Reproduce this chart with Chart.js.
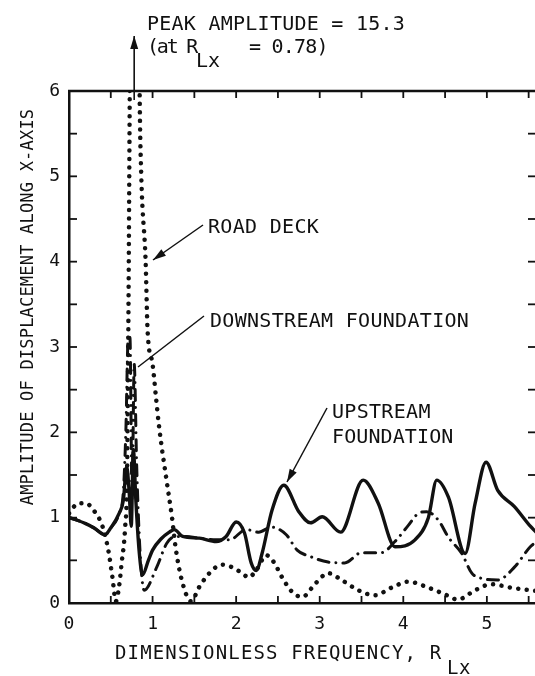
<!DOCTYPE html>
<html><head><meta charset="utf-8">
<script src="https://cdn.jsdelivr.net/npm/chart.js@4.4.1/dist/chart.umd.min.js"></script>
<style>
html,body{margin:0;padding:0;background:#fff;overflow:hidden;width:535px;height:676px}
#wrap{position:relative;width:535px;height:676px;overflow:hidden}
canvas{display:block}
</style>
</head><body>
<div id="wrap"><canvas id="c" width="535" height="676"></canvas></div>
<script>
// ---------- data ----------
const xTickLabels = ['0', '1', '2', '3', '4', '5'];
const yTickLabels = ['0', '1', '2', '3', '4', '5', '6'];

const roadDeckX = [0, 0.05, 0.12, 0.2, 0.3, 0.4, 0.47, 0.52, 0.56, 0.6, 0.63, 0.67, 0.695, 0.71, 0.727, 0.78, 0.845, 0.865, 0.917, 0.94, 1.0, 1.04, 1.08, 1.17, 1.23, 1.28, 1.36, 1.46, 1.56, 1.68, 1.83, 1.95, 2.07, 2.15, 2.25, 2.36, 2.45, 2.55, 2.67, 2.79, 2.95, 3.1, 3.26, 3.46, 3.66, 3.86, 4.06, 4.3, 4.5, 4.65, 4.86, 5.05, 5.29, 5.52, 5.6];
const roadDeckY = [1.05, 1.12, 1.17, 1.17, 1.08, 0.9, 0.62, 0.3, 0.02, 0.2, 0.47, 0.86, 1.5, 3.2, 6.0, 15.3, 6.0, 5.0, 4.0, 3.2, 2.8, 2.42, 2.05, 1.42, 1.02, 0.62, 0.23, 0.02, 0.19, 0.35, 0.45, 0.42, 0.35, 0.3, 0.4, 0.56, 0.48, 0.3, 0.13, 0.07, 0.23, 0.35, 0.27, 0.15, 0.09, 0.18, 0.25, 0.18, 0.1, 0.04, 0.15, 0.22, 0.18, 0.15, 0.14];

const downstreamX = [0, 0.1, 0.2, 0.3, 0.43, 0.5, 0.6, 0.65, 0.68, 0.71, 0.73, 0.755, 0.78, 0.81, 0.85, 0.9, 1.05, 1.17, 1.28, 1.4, 1.56, 1.76, 1.92, 2.12, 2.27, 2.42, 2.6, 2.73, 2.9, 3.1, 3.3, 3.5, 3.74, 3.9, 4.06, 4.18, 4.28, 4.42, 4.54, 4.7, 4.82, 4.93, 5.13, 5.33, 5.52, 5.6];
const downstreamY = [1.0, 0.97, 0.93, 0.88, 0.8, 0.88, 1.05, 1.3, 2.0, 3.15, 3.1, 1.2, 2.8, 1.6, 0.6, 0.15, 0.42, 0.7, 0.78, 0.78, 0.76, 0.74, 0.74, 0.86, 0.83, 0.89, 0.8, 0.62, 0.54, 0.48, 0.47, 0.59, 0.59, 0.72, 0.91, 1.05, 1.07, 0.97, 0.77, 0.58, 0.35, 0.29, 0.27, 0.42, 0.66, 0.72];

const upstreamX = [0, 0.1, 0.2, 0.3, 0.43, 0.5, 0.6, 0.65, 0.69, 0.72, 0.745, 0.77, 0.8, 0.84, 0.88, 0.95, 1.0, 1.1, 1.2, 1.26, 1.36, 1.56, 1.76, 1.88, 2.0, 2.1, 2.18, 2.24, 2.31, 2.43, 2.57, 2.75, 2.89, 3.03, 3.25, 3.52, 3.7, 3.9, 4.14, 4.3, 4.4, 4.54, 4.74, 4.86, 4.99, 5.13, 5.33, 5.52, 5.6];
const upstreamY = [1.0, 0.97, 0.93, 0.88, 0.8, 0.88, 1.05, 1.2, 1.6, 1.3, 0.9, 1.8, 1.2, 0.6, 0.33, 0.5, 0.62, 0.75, 0.83, 0.86, 0.78, 0.76, 0.72, 0.78, 0.95, 0.82, 0.47, 0.38, 0.58, 1.09, 1.38, 1.07, 0.94, 1.01, 0.83, 1.44, 1.17, 0.66, 0.74, 1.0, 1.44, 1.24, 0.58, 1.17, 1.65, 1.32, 1.13, 0.9, 0.82];

const peakRLx = 0.78;
// ------------------------------------------------------------

const INK = '#111';
const FONT = '"DejaVu Sans Mono", "Liberation Mono", monospace';
const pts = (xs, ys) => xs.map((v, i) => ({ x: v, y: ys[i] }));
const isInt = v => Math.abs(v - Math.round(v)) < 1e-6;

function txt(ctx, s, x, y, size, spacing) {
  ctx.font = size + 'px ' + FONT;
  ctx.letterSpacing = (spacing || 0) + 'px';
  ctx.textAlign = 'left';
  ctx.textBaseline = 'alphabetic';
  ctx.fillText(s, x, y);
}
function arrow(ctx, x1, y1, x2, y2, head) {
  ctx.beginPath(); ctx.moveTo(x1, y1); ctx.lineTo(x2, y2); ctx.stroke();
  if (head) {
    const ang = Math.atan2(y2 - y1, x2 - x1), L = 13, W = 4;
    const bx = x2 - L * Math.cos(ang), by = y2 - L * Math.sin(ang);
    ctx.beginPath();
    ctx.moveTo(x2, y2);
    ctx.lineTo(bx + W * Math.sin(ang), by - W * Math.cos(ang));
    ctx.lineTo(bx - W * Math.sin(ang), by + W * Math.cos(ang));
    ctx.closePath(); ctx.fill();
  }
}

const deco = {
  id: 'deco',
  afterDraw(chart) {
    const { ctx, chartArea: a, scales: { x, y } } = chart;
    ctx.save();
    ctx.strokeStyle = INK; ctx.fillStyle = INK; ctx.lineCap = 'butt';
    // top frame (right frame lies just outside the picture)
    ctx.lineWidth = 2.5;
    ctx.beginPath(); ctx.moveTo(a.left - 1, a.top); ctx.lineTo(a.right + 2, a.top); ctx.stroke();
    // inward tick marks every 0.5
    ctx.lineWidth = 1.8;
    for (let v = 0.5; v < 5.6; v += 0.5) {
      const px = x.getPixelForValue(v);
      ctx.beginPath(); ctx.moveTo(px, a.bottom); ctx.lineTo(px, a.bottom - 7); ctx.stroke();
      ctx.beginPath(); ctx.moveTo(px, a.top); ctx.lineTo(px, a.top + 7); ctx.stroke();
    }
    for (let v = 0.5; v < 6; v += 0.5) {
      const py = y.getPixelForValue(v);
      ctx.beginPath(); ctx.moveTo(a.left, py); ctx.lineTo(a.left + 8, py); ctx.stroke();
      ctx.beginPath(); ctx.moveTo(a.right - 7, py); ctx.lineTo(a.right, py); ctx.stroke();
    }
    // axis titles
    txt(ctx, 'DIMENSIONLESS FREQUENCY, R', 115, 659, 19, 1.15);
    txt(ctx, 'Lx', 447, 674, 19, 0.5);
    ctx.save();
    ctx.translate(33, 307);
    ctx.rotate(-Math.PI / 2);
    ctx.font = '17px ' + FONT; ctx.letterSpacing = '0.2px';
    ctx.textAlign = 'center'; ctx.textBaseline = 'alphabetic';
    ctx.fillText('AMPLITUDE OF DISPLACEMENT ALONG X-AXIS', 0, 0);
    ctx.restore();
    // peak annotation
    const ax = x.getPixelForValue(peakRLx);
    ctx.lineWidth = 1.6;
    arrow(ctx, ax, 100, ax, 36, true);
    txt(ctx, 'PEAK AMPLITUDE = 15.3', 147, 30, 20, 0.25);
    txt(ctx, '(at R', 147, 53, 20, -2.2);
    txt(ctx, 'Lx', 196, 67, 20, 0);
    txt(ctx, '= 0.78)', 249, 53, 20, -0.8);
    // series labels
    ctx.lineWidth = 1.5;
    txt(ctx, 'ROAD DECK', 208, 233, 20, 0.3);
    arrow(ctx, 203, 225, 153, 260, true);
    txt(ctx, 'DOWNSTREAM FOUNDATION', 210, 327, 20, 0.3);
    arrow(ctx, 204, 316, 138, 367, false);
    txt(ctx, 'UPSTREAM', 332, 418, 20, 0.3);
    txt(ctx, 'FOUNDATION', 332, 443, 20, 0.1);
    arrow(ctx, 327, 408, 287, 482, true);
    ctx.restore();
  }
};

new Chart(document.getElementById('c'), {
  type: 'line',
  data: {
    datasets: [
      { label: 'ROAD DECK', data: pts(roadDeckX, roadDeckY), borderColor: INK, borderWidth: 4.5,
        borderDash: [0.01, 8.5], borderCapStyle: 'round', pointRadius: 0, cubicInterpolationMode: 'monotone', fill: false },
      { label: 'DOWNSTREAM FOUNDATION', data: pts(downstreamX, downstreamY), borderColor: INK, borderWidth: 3,
        borderDash: [11, 7, 0.01, 7], borderCapStyle: 'round', pointRadius: 0, cubicInterpolationMode: 'monotone', fill: false },
      { label: 'UPSTREAM FOUNDATION', data: pts(upstreamX, upstreamY), borderColor: INK, borderWidth: 3.4,
        borderCapStyle: 'round', borderJoinStyle: 'round', pointRadius: 0, cubicInterpolationMode: 'monotone', fill: false }
    ]
  },
  options: {
    responsive: false, animation: false, devicePixelRatio: 1,
    layout: { padding: { left: 0, top: 91, right: 0, bottom: 43 } },
    plugins: { legend: { display: false }, tooltip: { enabled: false }, title: { display: false } },
    scales: {
      x: {
        type: 'linear', min: 0, max: 5.576,
        grid: { display: false, drawTicks: false },
        border: { display: true, color: INK, width: 2.5 },
        ticks: { stepSize: 0.5, autoSkip: false, maxRotation: 0, padding: 11, color: INK,
          font: { family: FONT, size: 18 },
          callback: v => isInt(v) ? (xTickLabels[Math.round(v)] ?? '') : '' },
        afterFit: s => { s.height = 30; s.paddingLeft = 0; s.paddingRight = 0; }
      },
      y: {
        type: 'linear', min: 0, max: 6,
        grid: { display: false, drawTicks: false },
        border: { display: true, color: INK, width: 2.5 },
        ticks: { stepSize: 0.5, autoSkip: false, padding: 9, color: INK,
          font: { family: FONT, size: 18 },
          callback: v => isInt(v) ? (yTickLabels[Math.round(v)] ?? '') : '' },
        afterFit: s => { s.width = 69; s.paddingTop = 0; s.paddingBottom = 0; }
      }
    }
  },
  plugins: [deco]
});
</script>
</body></html>
